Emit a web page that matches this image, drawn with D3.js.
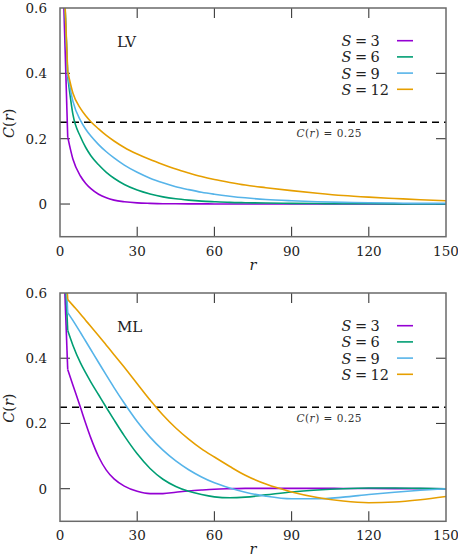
<!DOCTYPE html>
<html>
<head>
<meta charset="utf-8">
<script src="https://cdn.jsdelivr.net/npm/d3@7"></script>
<style>
  html, body { margin: 0; padding: 0; background: #fff; }
  svg { display: block; }
  text { font-family: "DejaVu Serif", "Liberation Serif", serif; }
</style>
</head>
<body>
<svg id="chart" width="458" height="558"></svg>
<script>
// ---------------- data ----------------
const rGrid = [0, 3, 5, 8, 10, 12, 15, 18, 21, 25, 30, 35, 40, 45, 50, 55, 60, 66, 72, 80, 90, 100, 110, 120, 130, 140, 150];

const seriesLabels = ["3", "6", "9", "12"];
const seriesColors = ["#9400d3", "#009e73", "#56b4e9", "#e69f00"];

// LV panel
const lvS3  = [1, 0.205, 0.138, 0.085, 0.063, 0.047, 0.030, 0.019, 0.012, 0.007, 0.0035, 0.002, 0.001, 0.0007, 0.0005, 0.0004, 0.0003, 0.0002, 0.0001, 0, 0, 0, 0, 0, 0, 0, 0];
const lvS6  = [1, 0.390, 0.275, 0.205, 0.173, 0.148, 0.120, 0.097, 0.079, 0.060, 0.043, 0.031, 0.022, 0.016, 0.012, 0.009, 0.007, 0.005, 0.004, 0.003, 0.002, 0.0015, 0.001, 0.0008, 0.0005, 0.0003, 0.0002];
const lvS9  = [1, 0.395, 0.315, 0.255, 0.229, 0.208, 0.182, 0.160, 0.141, 0.119, 0.097, 0.079, 0.065, 0.053, 0.044, 0.036, 0.030, 0.024, 0.019, 0.014, 0.010, 0.007, 0.005, 0.004, 0.003, 0.002, 0.002];
const lvS12 = [1, 0.405, 0.340, 0.292, 0.270, 0.252, 0.230, 0.210, 0.193, 0.173, 0.153, 0.136, 0.121, 0.107, 0.095, 0.084, 0.075, 0.066, 0.058, 0.050, 0.041, 0.033, 0.026, 0.021, 0.017, 0.013, 0.010];

// ML panel
const mlS3  = [1, 0.365, 0.318, 0.248, 0.200, 0.155, 0.098, 0.057, 0.030, 0.008, -0.008, -0.015, -0.015, -0.011, -0.007, -0.004, -0.0015, 0.000, 0.001, 0.001, 0.001, 0.001, 0.0008, 0.0005, 0.0003, 0.0002, 0];
const mlS6  = [1, 0.485, 0.440, 0.385, 0.355, 0.327, 0.288, 0.249, 0.211, 0.162, 0.107, 0.062, 0.029, 0.007, -0.008, -0.018, -0.025, -0.028, -0.026, -0.019, -0.010, -0.004, 0.000, 0.002, 0.002, 0.001, 0];
const mlS9  = [1, 0.540, 0.516, 0.478, 0.452, 0.426, 0.387, 0.348, 0.310, 0.262, 0.206, 0.158, 0.118, 0.085, 0.058, 0.036, 0.018, 0.002, -0.011, -0.023, -0.031, -0.031, -0.026, -0.018, -0.011, -0.005, 0];
const mlS12 = [1, 0.580, 0.562, 0.535, 0.516, 0.497, 0.469, 0.440, 0.411, 0.372, 0.322, 0.272, 0.226, 0.186, 0.152, 0.122, 0.097, 0.068, 0.041, 0.014, -0.010, -0.027, -0.038, -0.043, -0.041, -0.034, -0.024];

const xTicks = [0, 30, 60, 90, 120, 150];
const yTicks = [0, 0.2, 0.4, 0.6];
const yTickLabels = ["0", "0.2", "0.4", "0.6"];
const threshold = 0.25;
const panelNames = ["LV", "ML"];

// ---------------- drawing ----------------
const svg = d3.select("#chart");

const panels = [
  { name: panelNames[0], series: [lvS3, lvS6, lvS9, lvS12], top: 8, bottom: 236.7 },
  { name: panelNames[1], series: [mlS3, mlS6, mlS9, mlS12], top: 293, bottom: 521.3 }
];

const left = 60, right = 446;
const frameColor = "#6a6a6a";
const tickColor = "#3a3a3a";
const FS = 13.5;

panels.forEach((p, pi) => {
  const x = d3.scaleLinear().domain([0, 150]).range([left, right]);
  const y = d3.scaleLinear().domain([-0.1, 0.6]).range([p.bottom, p.top]);
  const g = svg.append("g");

  const clipId = "clip" + pi;
  svg.append("clipPath").attr("id", clipId)
    .append("rect").attr("x", left).attr("y", p.top)
    .attr("width", right - left).attr("height", p.bottom - p.top);

  // ticks (mirrored, inward)
  const tl = 10;
  xTicks.forEach(t => {
    if (t === 0 || t === 150) return;
    g.append("line").attr("x1", x(t)).attr("x2", x(t)).attr("y1", p.bottom).attr("y2", p.bottom - tl)
      .attr("stroke", tickColor).attr("stroke-width", 1.1);
    g.append("line").attr("x1", x(t)).attr("x2", x(t)).attr("y1", p.top).attr("y2", p.top + tl)
      .attr("stroke", tickColor).attr("stroke-width", 1.1);
  });
  yTicks.forEach(t => {
    if (t === 0.6) return;
    g.append("line").attr("x1", left).attr("x2", left + tl).attr("y1", y(t)).attr("y2", y(t))
      .attr("stroke", tickColor).attr("stroke-width", 1.1);
    g.append("line").attr("x1", right).attr("x2", right - tl).attr("y1", y(t)).attr("y2", y(t))
      .attr("stroke", tickColor).attr("stroke-width", 1.1);
  });

  // tick labels
  xTicks.forEach(t => {
    g.append("text").attr("x", x(t)).attr("y", p.bottom + 19)
      .attr("text-anchor", "middle").attr("font-size", FS).attr("fill", "#222").text(t);
  });
  yTicks.forEach((t, i) => {
    g.append("text").attr("x", 47).attr("y", y(t) + 5)
      .attr("text-anchor", "end").attr("font-size", FS).attr("fill", "#222").text(yTickLabels[i]);
  });

  // axis titles
  const yMid = (p.top + p.bottom) / 2 + 1;
  const yl = g.append("text").attr("transform", `translate(14,${yMid}) rotate(-90)`)
    .attr("text-anchor", "middle").attr("font-size", 14.5).attr("fill", "#222");
  yl.append("tspan").attr("font-style", "italic").text("C");
  yl.append("tspan").text("(");
  yl.append("tspan").attr("font-style", "italic").text("r");
  yl.append("tspan").text(")");

  g.append("text").attr("x", 253).attr("y", p.bottom + 33)
    .attr("text-anchor", "middle").attr("font-size", 14.5).attr("font-style", "italic").attr("fill", "#222").text("r");

  // panel name
  g.append("text").attr("x", 117).attr("y", y(0.6) + 39)
    .attr("font-size", 15).attr("fill", "#222").text(p.name);

  // threshold dashed line
  g.append("line").attr("x1", left).attr("x2", right).attr("y1", y(threshold)).attr("y2", y(threshold))
    .attr("stroke", "#000").attr("stroke-width", 1.5).attr("stroke-dasharray", "7,5");
  const tt = g.append("text").attr("x", 296.5).attr("y", y(threshold) + 15)
    .attr("font-size", 10.5).attr("fill", "#333")
    .attr("textLength", 65).attr("lengthAdjust", "spacing");
  tt.append("tspan").attr("font-style", "italic").text("C");
  tt.append("tspan").text("(");
  tt.append("tspan").attr("font-style", "italic").text("r");
  tt.append("tspan").text(") = " + threshold);

  // curves: straight first segment (r=0 to r=3), smooth afterwards
  const smooth = d3.line()
    .x(d => x(d[0]))
    .y(d => y(d[1]))
    .curve(d3.curveMonotoneX);
  const straight = d3.line()
    .x(d => x(d[0]))
    .y(d => y(d[1]));
  const cg = g.append("g").attr("clip-path", `url(#${clipId})`);
  p.series.forEach((s, i) => {
    const pts = s.map((v, k) => [rGrid[k], v]);
    cg.append("path").datum(pts.slice(0, 2)).attr("d", straight)
      .attr("fill", "none").attr("stroke", seriesColors[i]).attr("stroke-width", 1.6);
    cg.append("path").datum(pts.slice(1)).attr("d", smooth)
      .attr("fill", "none").attr("stroke", seriesColors[i]).attr("stroke-width", 1.6)
      .attr("stroke-linejoin", "round");
  });

  // legend
  const legTop = y(0.6) + 32.7;
  seriesLabels.forEach((lab, i) => {
    const cy = legTop + i * 16.2;
    const t = g.append("text").attr("x", 341.5).attr("y", cy + 5.5)
      .attr("font-size", 14.5).attr("fill", "#222");
    t.append("tspan").attr("font-style", "italic").text("S");
    t.append("tspan").attr("dx", 3.5).text("=");
    t.append("tspan").attr("dx", 3.5).text(lab);
    g.append("line").attr("x1", 397).attr("x2", 413).attr("y1", cy).attr("y2", cy)
      .attr("stroke", seriesColors[i]).attr("stroke-width", 1.6);
  });

  // frame
  g.append("rect").attr("x", left).attr("y", p.top)
    .attr("width", right - left).attr("height", p.bottom - p.top)
    .attr("fill", "none").attr("stroke", frameColor).attr("stroke-width", 1.5);
});
</script>
</body>
</html>
